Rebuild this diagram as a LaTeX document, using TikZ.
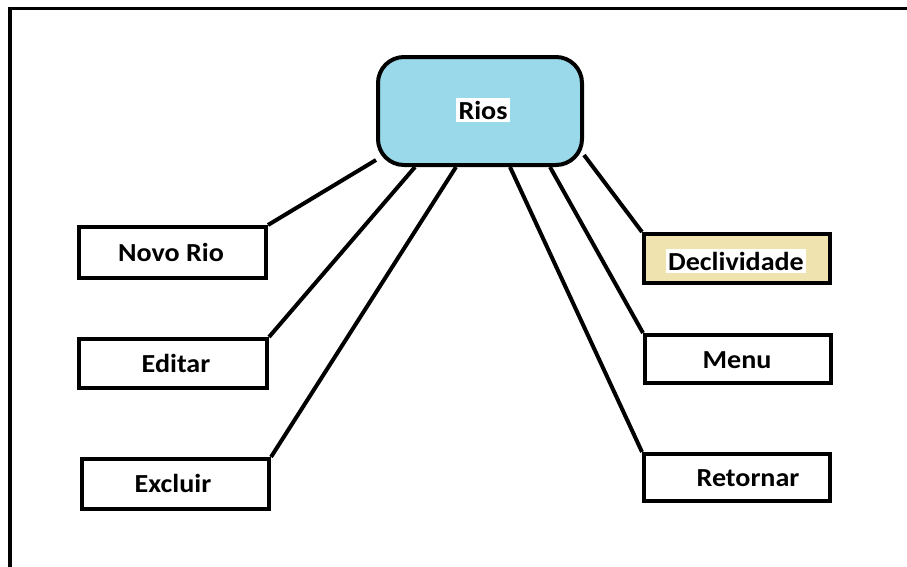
\documentclass[tikz,border=0pt]{standalone}
\usepackage{fontspec}
\setmainfont{Carlito}[FakeStretch=1.08]
\usetikzlibrary{calc}
\definecolor{riosblue}{HTML}{99D9EA}
\definecolor{declfill}{HTML}{EFE4B0}
\begin{document}
\begin{tikzpicture}[x=1pt,y=-1pt,
  box/.style={draw=black, line width=4pt, fill=white, inner sep=0pt},
  lbl/.style={font=\fontsize{26}{30}\selectfont\bfseries, inner sep=2.5pt},
  link/.style={line width=4pt}]
  \useasboundingbox (0,0) rectangle (907,566);
  \begin{scope}
    \clip (0,0) rectangle (907,566);
    % outer frame (continues past the right and bottom edges)
    \draw[line width=3.5pt] (10,8.5) rectangle (930,590);
  \end{scope}

  % central node
  \node[box, fill=riosblue, rounded corners=26pt, minimum width=204pt, minimum height=108pt] (rios) at (480,111) {};
  \node[lbl, fill=white] (riost) at (483,110) {Rios};

  % option boxes
  \node[box, minimum width=187pt, minimum height=51pt] (novo) at (172.5,252.5) {};
  \node[box, minimum width=188pt, minimum height=49pt] (editar) at (173,363.5) {};
  \node[box, minimum width=187pt, minimum height=50pt] (excluir) at (175.5,484) {};
  \node[box, fill=declfill, minimum width=186pt, minimum height=49pt] (decl) at (737,258.5) {};
  \node[box, minimum width=186pt, minimum height=48pt] (menu) at (738,359) {};
  \node[box, minimum width=186pt, minimum height=47pt] (retornar) at (737,477.5) {};

  % labels
  \node[lbl] (novot) at (171,252) {Novo Rio};
  \node[lbl] (editart) at (176,363) {Editar};
  \node[lbl] (excluirt) at (173,483) {Excluir};
  \node[lbl, fill=white] (declt) at (736,261) {Declividade};
  \node[lbl] (menut) at (737,360) {Menu};
  \node[lbl] (retornart) at (748,478) {Retornar};

  % connectors
  \draw[link] ($(rios.south west)+(0,-7)$) -- (novo.north east);
  \draw[link] ($(rios.south west)+(39,0)$) -- (editar.north east);
  \draw[link] ($(rios.south west)+(80,0)$) -- (excluir.north east);
  \draw[link] ($(rios.south west)+(134,0)$) -- (retornar.north west);
  \draw[link] ($(rios.south west)+(174,0)$) -- (menu.north west);
  \draw[link] ($(rios.south east)+(0,-12)$) -- (decl.north west);
\end{tikzpicture}
\end{document}
